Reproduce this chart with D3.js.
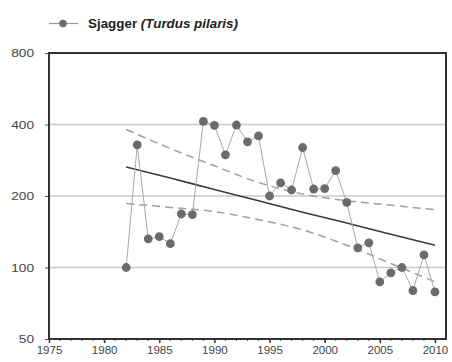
<!DOCTYPE html>
<html>
<head>
<meta charset="utf-8">
<script src="https://cdn.jsdelivr.net/npm/d3@7"></script>
<style>
html,body{margin:0;padding:0;background:#fff;}
svg{display:block;font-family:"Liberation Sans",Arial,sans-serif;}
</style>
</head>
<body>
<svg id="chart" width="452" height="362"></svg>
<script>
const years = [1982,1983,1984,1985,1986,1987,1988,1989,1990,1991,1992,1993,1994,1995,1996,1997,1998,1999,2000,2001,2002,2003,2004,2005,2006,2007,2008,2009,2010];
const counts = [100,328,132,135,126,168,167,412,397,298,398,338,358,200,227,212,320,214,215,256,188,121,127,87,95,100,80,113,79];
const trendYears = [1982,1986,1990,1994,1998,2002,2006,2010];
const trendValues = [265,238,213,191,171,154,138,124];
const upperValues = [381,317,268,228,204,191,183,175];
const lowerValues = [186,179,172,159,144,124,104,87];
const yTicks = [50,100,200,400,800];
const gridTicks = [100,200,400];
const xTicks = [1975,1980,1985,1990,1995,2000,2005,2010];
const legendLabel = "Sjagger ";
const legendLatin = "(Turdus pilaris)";

const svg = d3.select("#chart");
const m = {left:49, top:53, right:6, bottom:23};
const W = 452, H = 362;
const x = d3.scaleLinear().domain([1975,2011]).range([m.left, W - m.right]);
const y = d3.scaleLog().domain([50,800]).range([H - m.bottom, m.top]);

// gridlines
svg.append("g").selectAll("line").data(gridTicks).join("line")
  .attr("x1", x(1975)).attr("x2", x(2011))
  .attr("y1", d => y(d)).attr("y2", d => y(d))
  .attr("stroke", "#c8c8c8").attr("stroke-width", 1.5);

// x axis major ticks
const xAxis = d3.axisBottom(x).tickValues(xTicks).tickFormat(d3.format("d")).tickSize(4).tickPadding(3);
const gx = svg.append("g").attr("transform", `translate(0,${y(50)})`).call(xAxis);
gx.select(".domain").remove();
gx.selectAll("line").attr("stroke", "#333").attr("stroke-width", 1.5);
gx.selectAll("text").attr("font-size", 11.5).attr("fill", "#444");
// minor ticks
svg.append("g").selectAll("line").data(d3.range(1976, 2011)).join("line")
  .attr("x1", d => x(d)).attr("x2", d => x(d))
  .attr("y1", y(50)).attr("y2", y(50) + 2)
  .attr("stroke", "#555").attr("stroke-width", 1);

const yAxis = d3.axisLeft(y).tickValues(yTicks).tickFormat(d3.format("d")).tickSize(4).tickPadding(11);
const gy = svg.append("g").attr("transform", `translate(${x(1975)},0)`).call(yAxis);
gy.select(".domain").remove();
gy.selectAll("line").attr("stroke", "#555").attr("stroke-width", 1);
gy.selectAll("text").attr("font-size", 11.5).attr("fill", "#444")
  .attr("textLength", d => String(d).length * 7.6).attr("lengthAdjust", "spacingAndGlyphs");

// frame
svg.append("rect").attr("x", x(1975)).attr("y", y(800))
  .attr("width", x(2011) - x(1975)).attr("height", y(50) - y(800))
  .attr("fill", "none").attr("stroke", "#333").attr("stroke-width", 2);

// trend + bands
const band = (vals) => d3.line().curve(d3.curveMonotoneX)
  .x((d,i) => x(trendYears[i])).y(d => y(d))(vals);
svg.append("path").attr("d", band(upperValues)).attr("fill","none")
  .attr("stroke","#a0a0a0").attr("stroke-width",1.5).attr("stroke-dasharray","8,5");
svg.append("path").attr("d", band(lowerValues)).attr("fill","none")
  .attr("stroke","#a0a0a0").attr("stroke-width",1.5).attr("stroke-dasharray","8,5");
svg.append("path").attr("d", band(trendValues)).attr("fill","none")
  .attr("stroke","#3a3a3a").attr("stroke-width",1.6);

// data line
const line = d3.line().x((d,i) => x(years[i])).y(d => y(d));
svg.append("path").attr("d", line(counts)).attr("fill","none")
  .attr("stroke","#a8a8a8").attr("stroke-width",1);
svg.append("g").selectAll("circle").data(counts).join("circle")
  .attr("cx", (d,i) => x(years[i])).attr("cy", d => y(d)).attr("r", 4.4)
  .attr("fill", "#6b6b6b");

// legend
const lg = svg.append("g");
lg.append("line").attr("x1",49).attr("x2",78).attr("y1",23.5).attr("y2",23.5)
  .attr("stroke","#999").attr("stroke-width",1.2);
lg.append("circle").attr("cx",63).attr("cy",23.5).attr("r",3.8).attr("fill","#6b6b6b");
const t = lg.append("text").attr("x",88).attr("y",27.8).attr("font-size",12)
  .attr("font-weight","bold").attr("fill","#222")
  .attr("textLength", 150).attr("lengthAdjust", "spacingAndGlyphs");
t.append("tspan").text(legendLabel);
t.append("tspan").attr("font-style","italic").text(legendLatin);
</script>
</body>
</html>
